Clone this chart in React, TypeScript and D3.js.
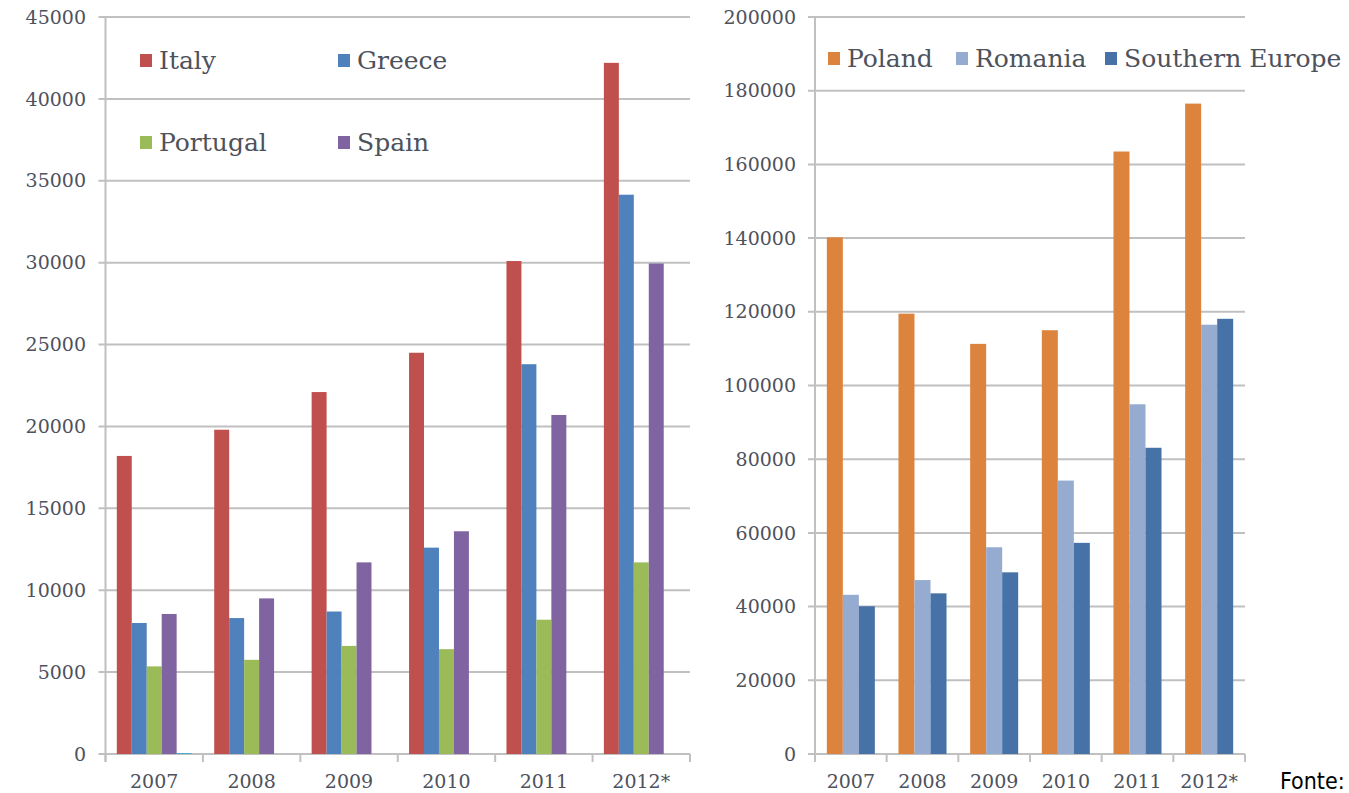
import React, { useRef, useEffect } from "react";
import * as d3 from "d3";

// categories shared by both panels
const years = ["2007", "2008", "2009", "2010", "2011", "2012*"];

// left panel
const leftSeries = ["Italy", "Greece", "Portugal", "Spain", "Other"];
const italy = [18200, 19800, 22100, 24500, 30100, 42200];
const greece = [8000, 8300, 8700, 12600, 23800, 34150];
const portugal = [5350, 5750, 6600, 6400, 8200, 11700];
const spain = [8550, 9500, 11700, 13600, 20700, 29950];
const other = [60, 0, 0, 0, 0, 0];
const leftTicks = [0, 5000, 10000, 15000, 20000, 25000, 30000, 35000, 40000, 45000];

// right panel
const rightSeries = ["Poland", "Romania", "Southern Europe"];
const poland = [140200, 119500, 111300, 115000, 163500, 176500];
const romania = [43200, 47200, 56100, 74200, 94900, 116500];
const southernEurope = [40100, 43600, 49300, 57300, 83100, 118100];
const rightTicks = [0, 20000, 40000, 60000, 80000, 100000, 120000, 140000, 160000, 180000, 200000];

const COLORS: Record<string, string> = {
  Italy: "#c0504d",
  Greece: "#4f81bd",
  Portugal: "#9bbb59",
  Spain: "#8064a2",
  Other: "#4bacc6",
  Poland: "#dc843e",
  Romania: "#95abd0",
  "Southern Europe": "#4672a8",
};

const FONT = "'DejaVu Serif', 'Liberation Serif', serif";
const GRID = "#c0c0c0";
const TEXT = "#4d525c";

type Panel = {
  series: string[];
  values: number[][];
  ticks: number[];
  x0: number;
  x1: number;
  pad: number;
  legend: { name: string; x: number; y: number }[];
  labelRight: number;
};

const drawPanel = (svg: any, p: Panel) => {
  const top = 17;
  const bottom = 754;
  const max = p.ticks[p.ticks.length - 1];

  const x = d3.scaleBand().domain(years).range([p.x0, p.x1]).padding(0);
  const xs = d3
    .scaleBand()
    .domain(p.series)
    .range([x.bandwidth() * p.pad, x.bandwidth() * (1 - p.pad)])
    .padding(0);
  const y = d3.scaleLinear().domain([0, max]).range([bottom, top]);

  const g = svg.append("g");

  // gridlines + y ticks
  g.selectAll("line.grid")
    .data(p.ticks)
    .join("line")
    .attr("class", "grid")
    .attr("x1", p.x0 - 7)
    .attr("x2", p.x1)
    .attr("y1", (d: number) => y(d))
    .attr("y2", (d: number) => y(d))
    .attr("stroke", GRID)
    .attr("stroke-width", 2);

  g.selectAll("text.ylab")
    .data(p.ticks)
    .join("text")
    .attr("class", "ylab")
    .attr("x", p.labelRight)
    .attr("y", (d: number) => y(d))
    .attr("dy", "0.35em")
    .attr("text-anchor", "end")
    .attr("font-family", FONT)
    .attr("font-size", 19)
    .attr("fill", TEXT)
    .text((d: number) => d);

  // bars
  const groups = g
    .selectAll("g.year")
    .data(years)
    .join("g")
    .attr("class", "year")
    .attr("transform", (d: string) => `translate(${x(d)},0)`);

  groups
    .selectAll("rect")
    .data((d: string, i: number) =>
      p.series.map((s, k) => ({ s, v: p.values[k][i] }))
    )
    .join("rect")
    .attr("x", (d: any) => xs(d.s))
    .attr("width", xs.bandwidth())
    .attr("y", (d: any) => y(d.v))
    .attr("height", (d: any) => Math.max(0, y(0) - y(d.v)))
    .attr("fill", (d: any) => COLORS[d.s]);

  // axes lines
  g.append("line")
    .attr("x1", p.x0)
    .attr("x2", p.x0)
    .attr("y1", top)
    .attr("y2", bottom + 8)
    .attr("stroke", GRID)
    .attr("stroke-width", 2);

  g.selectAll("line.xtick")
    .data(d3.range(years.length + 1))
    .join("line")
    .attr("class", "xtick")
    .attr("x1", (i: number) => p.x0 + i * x.bandwidth())
    .attr("x2", (i: number) => p.x0 + i * x.bandwidth())
    .attr("y1", bottom)
    .attr("y2", bottom + 8)
    .attr("stroke", GRID)
    .attr("stroke-width", 2);

  g.selectAll("text.xlab")
    .data(years)
    .join("text")
    .attr("class", "xlab")
    .attr("x", (d: string) => (x(d) as number) + x.bandwidth() / 2)
    .attr("y", 788)
    .attr("text-anchor", "middle")
    .attr("font-family", FONT)
    .attr("font-size", 19)
    .attr("fill", TEXT)
    .text((d: string) => d);

  // legend
  const lg = g
    .selectAll("g.legend")
    .data(p.legend)
    .join("g")
    .attr("class", "legend")
    .attr("transform", (d: any) => `translate(${d.x},${d.y})`);
  lg.append("rect")
    .attr("x", 0)
    .attr("y", -6)
    .attr("width", 12)
    .attr("height", 13)
    .attr("fill", (d: any) => COLORS[d.name]);
  lg.append("text")
    .attr("x", 19)
    .attr("y", 0)
    .attr("dy", "0.36em")
    .attr("font-family", FONT)
    .attr("font-size", 25)
    .attr("fill", TEXT)
    .text((d: any) => d.name);
};

const App = () => {
  const svgRef = useRef<SVGSVGElement>(null);

  useEffect(() => {
    const svg = d3.select(svgRef.current);
    svg.selectAll("*").remove();

    drawPanel(svg, {
      series: leftSeries,
      values: [italy, greece, portugal, spain, other],
      ticks: leftTicks,
      x0: 105.5,
      x1: 690,
      pad: 0.116,
      labelRight: 86,
      legend: [
        { name: "Italy", x: 140, y: 60 },
        { name: "Greece", x: 338, y: 60 },
        { name: "Portugal", x: 140, y: 142 },
        { name: "Spain", x: 338, y: 142 },
      ],
    });

    drawPanel(svg, {
      series: rightSeries,
      values: [poland, romania, southernEurope],
      ticks: rightTicks,
      x0: 815,
      x1: 1245,
      pad: 0.165,
      labelRight: 796,
      legend: [
        { name: "Poland", x: 828, y: 58 },
        { name: "Romania", x: 956, y: 58 },
        { name: "Southern Europe", x: 1105, y: 58 },
      ],
    });

    svg
      .append("text")
      .attr("x", 1280)
      .attr("y", 789)
      .attr("font-family", "'DejaVu Sans Condensed', 'DejaVu Sans', sans-serif")
      .attr("font-size", 23)
      .attr("fill", "#000")
      .text("Fonte:");
  }, []);

  return (
    <svg
      ref={svgRef}
      width={1349}
      height={793}
      style={{ position: "absolute", left: 0, top: 0, background: "#fff" }}
    />
  );
};

export default App;
